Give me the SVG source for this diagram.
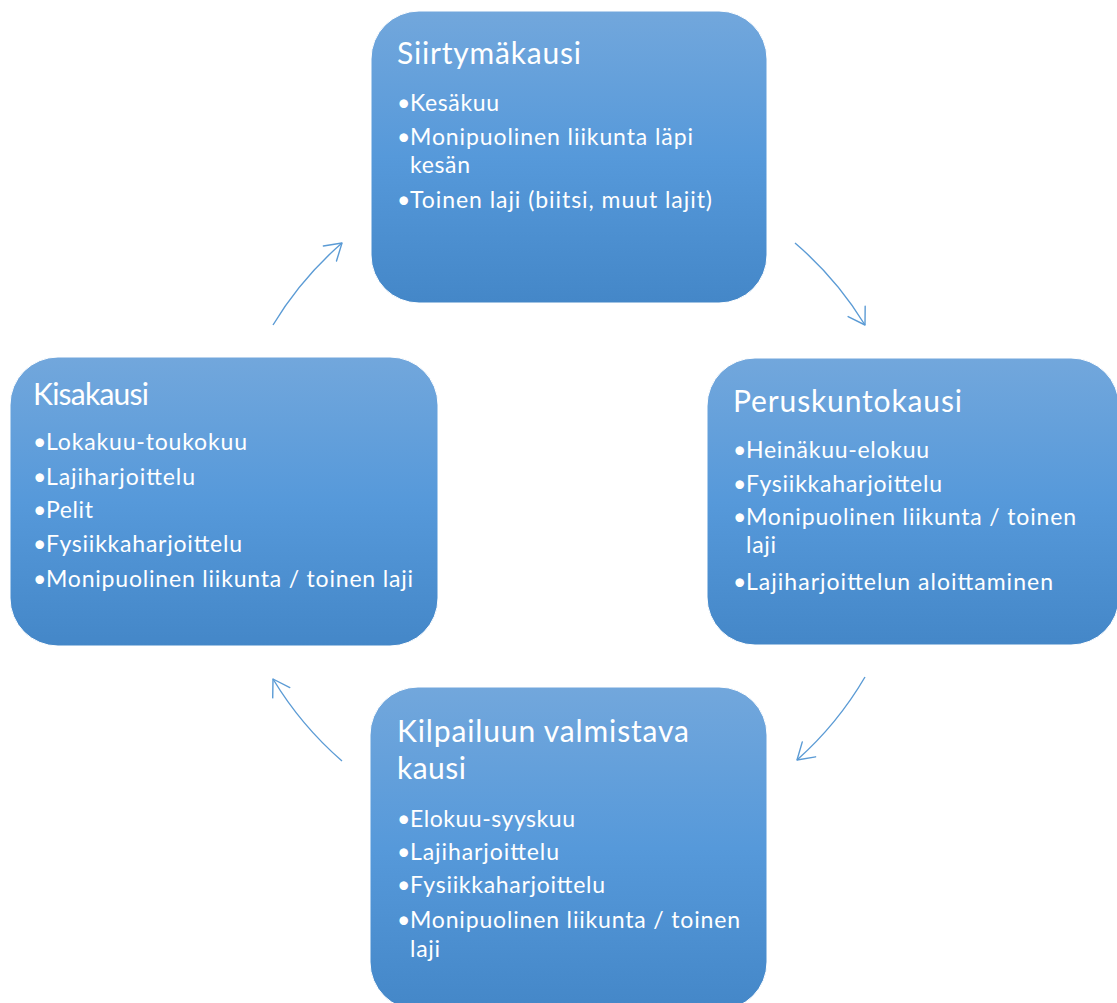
<svg xmlns="http://www.w3.org/2000/svg" width="1117" height="1003" viewBox="0 0 1117 1003">
  <defs>
    <linearGradient id="boxGrad" x1="0" y1="0" x2="0" y2="1">
      <stop offset="0" stop-color="#72a7dc"/>
      <stop offset="0.5" stop-color="#5699da"/>
      <stop offset="1" stop-color="#4487c8"/>
    </linearGradient>
    <marker id="arrowHead" markerUnits="userSpaceOnUse" markerWidth="24" markerHeight="24" viewBox="-20 -12 24 24" refX="0" refY="0" orient="auto">
      <path d="M -16,-10 L 0,0 L -16,10" fill="none" stroke="#5b9bd5" stroke-width="1.4" stroke-linecap="round" stroke-linejoin="round"/>
    </marker>
  </defs>
  <style>
    .box { fill: url(#boxGrad); stroke: #ffffff; stroke-width: 1; }
    .title { font-family: Lato, "Liberation Sans", sans-serif; font-size: 30px; fill: #ffffff; }
    .item { font-family: Lato, "Liberation Sans", sans-serif; font-size: 23px; fill: #ffffff; }
    .conn { fill: none; stroke: #5b9bd5; stroke-width: 1.4; marker-end: url(#arrowHead); }
  </style>
  <rect width="1117" height="1003" fill="#ffffff"/>

  <g id="connectors">
    <path class="conn" d="M 273,325 A 344,344 0 0 1 342,243"/>
    <path class="conn" d="M 795,243 A 344,344 0 0 1 865,325"/>
    <path class="conn" d="M 865,677 A 344,344 0 0 1 797,760"/>
    <path class="conn" d="M 342,761 A 344,344 0 0 1 273,679"/>
  </g>

  <g id="node-siirtymakausi">
    <rect class="box" x="371" y="11" width="396" height="292" rx="48" ry="48"/>
    <text class="title" x="397" y="64" textLength="184" lengthAdjust="spacing">Siirtymäkausi</text>
    <text class="item" x="397" y="111">•</text><text class="item" x="410" y="111" textLength="89" lengthAdjust="spacing">Kesäkuu</text>
    <text class="item" x="397" y="145">•</text><text class="item" x="410" y="145" textLength="283" lengthAdjust="spacing">Monipuolinen liikunta läpi</text>
    <text class="item" x="410" y="173" textLength="60" lengthAdjust="spacing">kesän</text>
    <text class="item" x="397" y="208">•</text><text class="item" x="410" y="208" textLength="302" lengthAdjust="spacing">Toinen laji (biitsi, muut lajit)</text>
  </g>

  <g id="node-peruskuntokausi">
    <rect class="box" x="707" y="358" width="412" height="287" rx="48" ry="48"/>
    <text class="title" x="733" y="412" textLength="229" lengthAdjust="spacing">Peruskuntokausi</text>
    <text class="item" x="733" y="458">•</text><text class="item" x="746" y="458" textLength="183" lengthAdjust="spacing">Heinäkuu-elokuu</text>
    <text class="item" x="733" y="492">•</text><text class="item" x="746" y="492" textLength="196" lengthAdjust="spacing">Fysiikkaharjoittelu</text>
    <text class="item" x="733" y="525">•</text><text class="item" x="746" y="525" textLength="330" lengthAdjust="spacing">Monipuolinen liikunta / toinen</text>
    <text class="item" x="746" y="553" textLength="30" lengthAdjust="spacing">laji</text>
    <text class="item" x="733" y="590">•</text><text class="item" x="746" y="590" textLength="307" lengthAdjust="spacing">Lajiharjoittelun aloittaminen</text>
  </g>

  <g id="node-kilpailuun-valmistava-kausi">
    <rect class="box" x="370" y="687" width="397" height="323" rx="48" ry="48"/>
    <text class="title" x="397" y="742" textLength="292" lengthAdjust="spacing">Kilpailuun valmistava</text>
    <text class="title" x="397" y="779" textLength="69" lengthAdjust="spacing">kausi</text>
    <text class="item" x="397" y="827">•</text><text class="item" x="410" y="827" textLength="165" lengthAdjust="spacing">Elokuu-syyskuu</text>
    <text class="item" x="397" y="860">•</text><text class="item" x="410" y="860" textLength="149" lengthAdjust="spacing">Lajiharjoittelu</text>
    <text class="item" x="397" y="893">•</text><text class="item" x="410" y="893" textLength="195" lengthAdjust="spacing">Fysiikkaharjoittelu</text>
    <text class="item" x="397" y="928">•</text><text class="item" x="410" y="928" textLength="330" lengthAdjust="spacing">Monipuolinen liikunta / toinen</text>
    <text class="item" x="410" y="957" textLength="30" lengthAdjust="spacing">laji</text>
  </g>

  <g id="node-kisakausi">
    <rect class="box" x="10" y="357" width="428" height="289" rx="48" ry="48"/>
    <text class="title" x="33" y="405" textLength="116" lengthAdjust="spacing">Kisakausi</text>
    <text class="item" x="33" y="450">•</text><text class="item" x="46" y="450" textLength="201" lengthAdjust="spacing">Lokakuu-toukokuu</text>
    <text class="item" x="33" y="485">•</text><text class="item" x="46" y="485" textLength="149" lengthAdjust="spacing">Lajiharjoittelu</text>
    <text class="item" x="33" y="518">•</text><text class="item" x="46" y="518" textLength="47" lengthAdjust="spacing">Pelit</text>
    <text class="item" x="33" y="552">•</text><text class="item" x="46" y="552" textLength="196" lengthAdjust="spacing">Fysiikkaharjoittelu</text>
    <text class="item" x="33" y="587">•</text><text class="item" x="46" y="587" textLength="367" lengthAdjust="spacing">Monipuolinen liikunta / toinen laji</text>
  </g>
</svg>
